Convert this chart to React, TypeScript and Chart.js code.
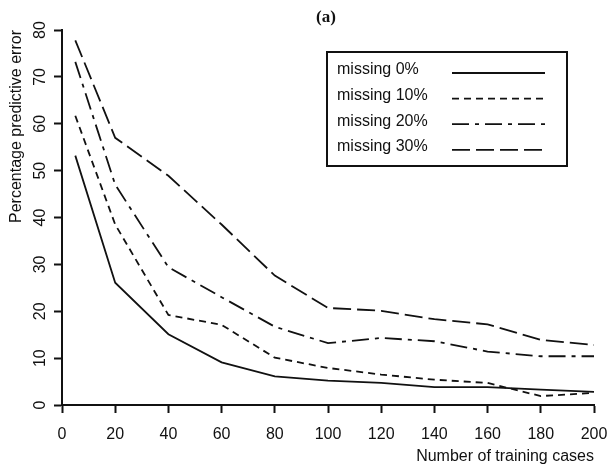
import React, { useEffect, useRef } from "react";
import { Chart, registerables } from "chart.js";

Chart.register(...registerables);

const trainingCases = [5, 20, 40, 60, 80, 100, 120, 140, 160, 180, 200];
const missing0 = [53.2, 26.1, 15.1, 9.1, 6.1, 5.2, 4.7, 3.8, 3.8, 3.3, 2.8];
const missing10 = [61.7, 38.5, 19.2, 17.1, 10.1, 7.9, 6.5, 5.4, 4.7, 1.9, 2.6];
const missing20 = [73.2, 47, 29.4, 23, 16.7, 13.2, 14.3, 13.6, 11.4, 10.4, 10.4];
const missing30 = [77.8, 57, 48.9, 38.5, 27.6, 20.7, 20.1, 18.3, 17.2, 13.9, 12.8];
const seriesLabels = ["missing 0%", "missing 10%", "missing 20%", "missing 30%"];
const seriesValues = [missing0, missing10, missing20, missing30];
const dashes: number[][] = [[], [7, 5], [17, 6, 4, 6], [18, 6]];

const INK = "#111";
const FONT = "'Liberation Sans', Arial, Helvetica, sans-serif";

const titlePlugin = {
  id: "panelTitle",
  afterDraw(chart: any) {
    const { ctx, chartArea } = chart;
    ctx.save();
    ctx.fillStyle = INK;
    ctx.font = "bold 17px 'Liberation Serif', 'Times New Roman', serif";
    ctx.textAlign = "center";
    ctx.textBaseline = "middle";
    ctx.fillText("(a)", (chartArea.left + chartArea.right) / 2 - 2, 18);
    ctx.restore();
  },
};

const legendPlugin = {
  id: "boxLegend",
  afterDraw(chart: any) {
    const { ctx, chartArea } = chart;
    const left = chartArea.left + 265;
    const top = chartArea.top + 22;
    const w = 240;
    const h = 114;
    ctx.save();
    ctx.fillStyle = "#fff";
    ctx.fillRect(left, top, w, h);
    ctx.strokeStyle = INK;
    ctx.lineWidth = 2;
    ctx.setLineDash([]);
    ctx.strokeRect(left, top, w, h);
    chart.data.datasets.forEach((ds: any, i: number) => {
      const ty = top + 18 + i * 25.6;
      ctx.fillStyle = INK;
      ctx.font = `16px ${FONT}`;
      ctx.textAlign = "left";
      ctx.textBaseline = "middle";
      ctx.fillText(ds.label, left + 10, ty);
      ctx.beginPath();
      ctx.setLineDash(ds.borderDash || []);
      ctx.lineWidth = 1.8;
      ctx.strokeStyle = INK;
      ctx.moveTo(left + 125, ty + 3);
      ctx.lineTo(left + 218, ty + 3);
      ctx.stroke();
    });
    ctx.restore();
  },
};

export default function App() {
  const canvasRef = useRef<HTMLCanvasElement | null>(null);

  useEffect(() => {
    const canvas = canvasRef.current;
    if (!canvas) return;
    const chart = new Chart(canvas, {
      type: "line",
      data: {
        datasets: seriesValues.map((vals, i) => ({
          label: seriesLabels[i],
          data: vals.map((v, j) => ({ x: trainingCases[j], y: v })),
          borderColor: INK,
          borderWidth: 1.8,
          borderDash: dashes[i],
          pointRadius: 0,
          tension: 0,
          fill: false,
        })),
      },
      options: {
        animation: false,
        responsive: false,
        devicePixelRatio: 1,
        layout: { padding: { top: 30, right: 16, left: 0, bottom: 0 } },
        plugins: {
          legend: { display: false },
          title: { display: false },
          tooltip: { enabled: false },
        },
        scales: {
          x: {
            type: "linear",
            min: 0,
            max: 200,
            afterFit: (s: any) => {
              s.height = 61;
              s.paddingLeft = 0;
              s.paddingRight = 0;
            },
            ticks: {
              stepSize: 20,
              color: INK,
              padding: 12,
              font: { family: FONT, size: 16 },
            },
            grid: {
              drawOnChartArea: false,
              drawTicks: true,
              tickLength: 8,
              tickWidth: 2,
              color: INK,
            },
            border: { display: true, color: INK, width: 2 },
            title: {
              display: true,
              text: "Number of training cases",
              align: "end",
              color: INK,
              font: { family: FONT, size: 16 },
              padding: { top: 0, bottom: 0 },
            },
          },
          y: {
            type: "linear",
            min: 0,
            max: 80,
            afterFit: (s: any) => {
              s.width = 62;
            },
            ticks: {
              stepSize: 10,
              color: INK,
              padding: 5,
              minRotation: 90,
              maxRotation: 90,
              crossAlign: "center",
              font: { family: FONT, size: 16 },
            },
            grid: {
              drawOnChartArea: false,
              drawTicks: true,
              tickLength: 8,
              tickWidth: 2,
              color: INK,
            },
            border: { display: true, color: INK, width: 2 },
            title: {
              display: true,
              text: "Percentage predictive error",
              align: "end",
              color: INK,
              font: { family: FONT, size: 16 },
              padding: { top: 7, bottom: 0 },
            },
          },
        },
      },
      plugins: [titlePlugin, legendPlugin],
    } as any);
    return () => chart.destroy();
  }, []);

  return (
    <div style={{ position: "fixed", left: 0, top: 0, width: 610, height: 466, background: "#fff" }}>
      <canvas ref={canvasRef} width={610} height={466} />
    </div>
  );
}
